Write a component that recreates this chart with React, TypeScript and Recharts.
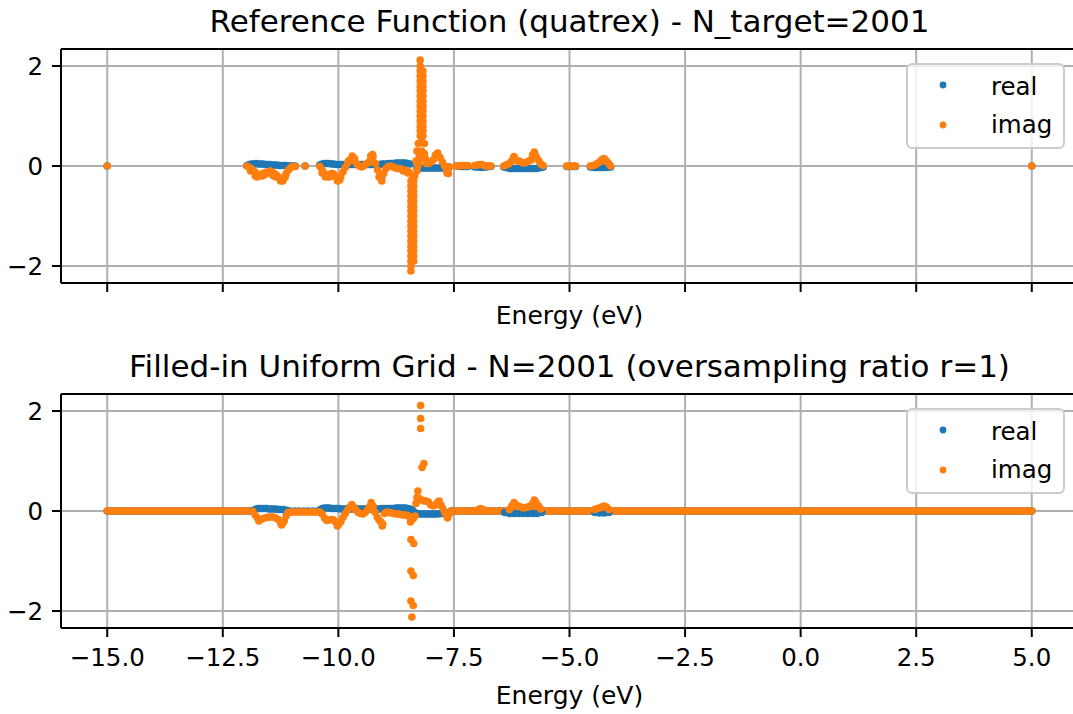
import React from 'react';
import { ComposedChart, Scatter, Line, XAxis, YAxis, CartesianGrid, ReferenceLine, Legend } from 'recharts';

type P = [number, number];

const BLUE = '#1f77b4';
const ORANGE = '#ff7f0e';

const titles = [
  'Reference Function (quatrex) - N_target=2001',
  'Filled-in Uniform Grid - N=2001 (oversampling ratio r=1)',
];
const xLabel = 'Energy (eV)';
const seriesNames = ['real', 'imag'];

const xTicks = [-15, -12.5, -10, -7.5, -5, -2.5, 0, 2.5, 5];
const yTicks = [-2, 0, 2];
const xDomain: [number, number] = [-16, 6];
const yDomain: [number, number] = [-2.34, 2.34];

// ---------- Top panel: reference function ----------
const topReal: P[] = [
  [-15, 0], [5, 0],
  [-11.98, 0.01], [-11.93, 0.03], [-11.88, 0.04], [-11.83, 0.04], [-11.78, 0.05], [-11.73, 0.04], [-11.68, 0.04],
  [-11.63, 0.04], [-11.58, 0.03], [-11.53, 0.03], [-11.48, 0.03], [-11.43, 0.02], [-11.38, 0.02], [-11.33, 0.02],
  [-11.28, 0.01], [-11.23, 0.01], [-11.18, 0.01], [-11.13, 0.01], [-11.08, 0], [-11.03, 0], [-10.98, 0], [-10.93, 0],
  [-10.72, 0],
  [-10.4, 0.02], [-10.35, 0.04], [-10.3, 0.05], [-10.25, 0.05], [-10.2, 0.05], [-10.15, 0.04], [-10.1, 0.04],
  [-10.05, 0.03], [-10.0, 0.03], [-9.95, 0.03], [-9.9, 0.03], [-9.85, 0.03], [-9.8, 0.03], [-9.75, 0.03], [-9.7, 0.03],
  [-9.65, 0.03], [-9.6, 0.03], [-9.55, 0.03], [-9.5, 0.03], [-9.45, 0.03], [-9.4, 0.03], [-9.35, 0.03], [-9.3, 0.03],
  [-9.25, 0.03], [-9.2, 0.03], [-9.15, 0.03], [-9.1, 0.03], [-9.05, 0.04], [-9.0, 0.04], [-8.95, 0.04], [-8.9, 0.05],
  [-8.85, 0.05], [-8.8, 0.05], [-8.75, 0.06], [-8.7, 0.06], [-8.65, 0.06], [-8.6, 0.06], [-8.55, 0.06], [-8.5, 0.05],
  [-8.45, 0.04],
  [-8.3, -0.03], [-8.25, -0.04], [-8.2, -0.04], [-8.15, -0.04], [-8.1, -0.04], [-8.05, -0.04], [-8.0, -0.04],
  [-7.95, -0.04], [-7.9, -0.04], [-7.85, -0.04], [-7.8, -0.04], [-7.75, -0.04], [-7.7, -0.03], [-7.65, -0.03], [-7.6, -0.02],
  [-7.45, 0], [-7.4, 0], [-7.35, -0.01], [-7.3, -0.01], [-7.25, -0.01], [-7.2, -0.01],
  [-7.05, -0.02], [-7.0, -0.02], [-6.95, -0.02], [-6.9, -0.03], [-6.85, -0.02], [-6.8, -0.02], [-6.75, -0.01], [-6.7, -0.01],
  [-6.42, -0.02], [-6.37, -0.03], [-6.32, -0.04], [-6.27, -0.05], [-6.22, -0.05], [-6.17, -0.05], [-6.12, -0.05],
  [-6.07, -0.05], [-6.02, -0.05], [-5.97, -0.05], [-5.92, -0.05], [-5.87, -0.05], [-5.82, -0.05], [-5.77, -0.05],
  [-5.72, -0.05], [-5.67, -0.04], [-5.62, -0.03], [-5.57, -0.02],
  [-5.06, -0.01], [-5.01, -0.01], [-4.96, -0.01], [-4.91, -0.01], [-4.87, -0.01],
  [-4.55, -0.02], [-4.5, -0.02], [-4.45, -0.03], [-4.4, -0.03], [-4.35, -0.03], [-4.3, -0.03], [-4.25, -0.03],
  [-4.2, -0.03], [-4.15, -0.02], [-4.11, -0.02],
];

const topImag: P[] = [
  [-15, 0], [5, 0],
  [-11.98, 0], [-11.93, -0.03], [-11.88, -0.06], [-11.83, -0.1], [-11.78, -0.14], [-11.73, -0.17], [-11.68, -0.18],
  [-11.63, -0.15], [-11.58, -0.13], [-11.53, -0.12], [-11.48, -0.1], [-11.43, -0.12], [-11.38, -0.15], [-11.33, -0.19],
  [-11.28, -0.23], [-11.23, -0.27], [-11.18, -0.24], [-11.13, -0.15], [-11.08, -0.08], [-11.03, -0.03], [-10.98, -0.01],
  [-10.93, -0.01],
  [-11.9, -0.1], [-11.8, -0.2], [-11.75, -0.22], [-11.65, -0.2], [-11.6, -0.18], [-11.45, -0.16], [-11.4, -0.2],
  [-11.35, -0.22], [-11.25, -0.3], [-11.2, -0.3], [-11.15, -0.22],
  [-10.72, 0],
  [-10.4, -0.01], [-10.35, -0.08], [-10.3, -0.15], [-10.25, -0.18], [-10.2, -0.17], [-10.15, -0.15], [-10.1, -0.16],
  [-10.05, -0.21], [-10.0, -0.26], [-9.95, -0.22], [-9.9, -0.12], [-9.85, -0.03], [-9.8, 0.06], [-9.75, 0.12],
  [-9.7, 0.16], [-9.65, 0.1], [-9.6, 0.04], [-9.55, 0], [-9.5, -0.02], [-9.45, 0], [-9.4, 0.04], [-9.35, 0.07],
  [-9.3, 0.14], [-9.25, 0.18], [-9.2, 0.05], [-9.15, -0.08], [-9.1, -0.18], [-9.06, -0.24], [-9.02, -0.15],
  [-8.97, -0.05], [-8.92, -0.01], [-8.87, 0], [-8.82, -0.02], [-8.77, -0.04], [-8.72, -0.05], [-8.67, -0.05],
  [-8.62, -0.07], [-8.57, -0.08], [-8.52, -0.1], [-8.47, -0.12],
  [-10.35, -0.14], [-10.28, -0.22], [-10.2, -0.22], [-10.12, -0.2], [-10.02, -0.3], [-9.97, -0.28], [-9.78, 0.1],
  [-9.7, 0.2], [-9.65, 0.15], [-9.3, 0.2], [-9.26, 0.23], [-9.12, -0.22], [-9.06, -0.3], [-8.6, -0.1], [-8.5, -0.14],
  [-8.4, -0.25], [-8.35, -0.2], [-8.3, -0.1], [-8.28, 0], [-8.26, 0.1], [-8.25, 0.2], [-8.32, 0.1], [-8.2, 0.3],
  [-8.2, 0.5], [-8.14, 0.45], [-8.14, 0.25], [-8.12, 0.15], [-8.1, 0.05], [-8.3, 0.3], [-8.27, 0.45],
  [-8.05, 0.05], [-8.0, 0.08], [-7.95, 0.12], [-7.9, 0.17], [-7.85, 0.21], [-7.8, 0.17], [-7.75, 0.08], [-7.7, 0],
  [-7.66, -0.08], [-7.63, -0.11], [-7.6, -0.02],
  [-7.9, 0.22], [-7.85, 0.26], [-7.65, -0.14], [-7.62, -0.15],
  [-7.45, 0], [-7.4, 0], [-7.35, 0.01], [-7.3, 0.01], [-7.25, 0.01], [-7.2, 0.01],
  [-7.05, 0.01], [-7.0, 0.02], [-6.95, 0.03], [-6.9, 0.03], [-6.85, 0.01], [-6.8, 0], [-6.75, 0], [-6.7, 0],
  [-6.42, 0], [-6.37, 0.02], [-6.32, 0.04], [-6.27, 0.08], [-6.22, 0.15], [-6.18, 0.14], [-6.13, 0.1], [-6.08, 0.1],
  [-6.03, 0.07], [-5.98, 0.06], [-5.93, 0.08], [-5.88, 0.1], [-5.83, 0.12], [-5.78, 0.2], [-5.75, 0.24], [-5.71, 0.17],
  [-5.66, 0.1], [-5.62, 0.04], [-5.57, 0.01],
  [-6.2, 0.19], [-5.8, 0.22], [-5.76, 0.28],
  [-5.06, 0], [-5.01, 0], [-4.96, 0], [-4.91, 0], [-4.87, 0],
  [-4.55, 0], [-4.5, 0.01], [-4.45, 0.02], [-4.4, 0.05], [-4.35, 0.08], [-4.3, 0.1], [-4.25, 0.12], [-4.2, 0.1],
  [-4.15, 0.05], [-4.11, 0], [-4.3, 0.13], [-4.25, 0.15],
];

// the dense vertical band of the pole near -8.3 eV (energy of each column, values read along it)
const topSpikeCols: { e: number; v: number[] }[] = [
  { e: -8.43, v: [-0.3, -0.4, -0.5, -0.6, -0.7, -0.8, -0.9, -1.0, -1.1, -1.2, -1.3, -1.4, -1.5, -1.6, -1.7, -1.8, -1.9, -2.0, -2.1] },
  { e: -8.37, v: [-0.3, -0.4, -0.5, -0.6, -0.7, -0.8, -0.9, -1.0, -1.1, -1.2, -1.3, -1.4, -1.5, -1.6, -1.7, -1.8, -1.9] },
  { e: -8.23, v: [0.6, 0.7, 0.8, 0.9, 1.0, 1.1, 1.2, 1.3, 1.4, 1.5, 1.6, 1.7, 1.8, 1.9, 2.0, 2.12] },
  { e: -8.17, v: [0.6, 0.7, 0.8, 0.9, 1.0, 1.1, 1.2, 1.3, 1.4, 1.5, 1.6, 1.7, 1.8, 1.9] },
];

// ---------- Bottom panel: uniform grid ----------
const gridZeroSegments: P[][] = [
  [[-15, 0], [-11.85, 0]],
  [[-7.55, 0], [5, 0]],
];

const botReal: P[] = [
  [-11.85, 0], [-11.8, 0.03], [-11.75, 0.05], [-11.7, 0.05], [-11.65, 0.05], [-11.6, 0.05], [-11.55, 0.05],
  [-11.5, 0.04], [-11.45, 0.04], [-11.4, 0.04], [-11.35, 0.04], [-11.3, 0.03], [-11.25, 0.03], [-11.2, 0.03],
  [-11.15, 0.02], [-11.1, 0.01], [-11.05, 0], [-10.95, 0], [-10.85, 0], [-10.75, 0], [-10.65, 0], [-10.55, 0], [-10.45, 0],
  [-10.4, 0.02], [-10.35, 0.05], [-10.3, 0.06], [-10.25, 0.06], [-10.2, 0.06], [-10.15, 0.05], [-10.1, 0.05],
  [-10.05, 0.05], [-10.0, 0.05], [-9.95, 0.04], [-9.9, 0.04], [-9.85, 0.04], [-9.8, 0.04], [-9.75, 0.04], [-9.7, 0.04],
  [-9.65, 0.04], [-9.6, 0.04], [-9.55, 0.04], [-9.5, 0.04], [-9.45, 0.04], [-9.4, 0.04], [-9.35, 0.04], [-9.3, 0.04],
  [-9.25, 0.04], [-9.2, 0.04], [-9.15, 0.04], [-9.1, 0.04], [-9.05, 0.05], [-9.0, 0.05], [-8.95, 0.05], [-8.9, 0.05],
  [-8.85, 0.05], [-8.8, 0.05], [-8.75, 0.06], [-8.7, 0.06], [-8.65, 0.06], [-8.6, 0.06], [-8.55, 0.06], [-8.5, 0.05],
  [-8.45, 0.04], [-8.4, 0.02], [-8.35, -0.03], [-8.3, -0.05], [-8.25, -0.06], [-8.2, -0.06], [-8.15, -0.06],
  [-8.1, -0.06], [-8.05, -0.06], [-8.0, -0.06], [-7.95, -0.06], [-7.9, -0.06], [-7.85, -0.06], [-7.8, -0.05],
  [-7.75, -0.05], [-7.7, -0.05], [-7.65, -0.04], [-7.6, -0.03], [-7.55, 0],
  [-6.4, -0.03], [-6.3, -0.05], [-6.2, -0.05], [-6.1, -0.05], [-6.0, -0.05], [-5.9, -0.05], [-5.8, -0.05],
  [-5.7, -0.05], [-5.6, -0.03],
  [-4.45, -0.03], [-4.35, -0.04], [-4.25, -0.04], [-4.15, -0.03],
];

const botImag: P[] = [
  [-11.85, -0.01], [-11.8, -0.08], [-11.75, -0.14], [-11.7, -0.17], [-11.65, -0.16], [-11.6, -0.14], [-11.55, -0.13],
  [-11.5, -0.12], [-11.45, -0.12], [-11.4, -0.12], [-11.35, -0.14], [-11.3, -0.17], [-11.25, -0.23], [-11.21, -0.25],
  [-11.17, -0.2], [-11.13, -0.1], [-11.09, -0.03], [-11.05, -0.02], [-11.0, -0.02], [-10.95, -0.02], [-10.9, -0.02],
  [-10.85, -0.02], [-10.8, -0.02], [-10.75, -0.02], [-10.7, -0.02], [-10.65, -0.02], [-10.6, -0.02], [-10.55, -0.02],
  [-10.5, -0.02], [-10.45, -0.02], [-10.4, -0.02], [-10.35, -0.06], [-10.3, -0.14], [-10.25, -0.19], [-10.2, -0.18],
  [-10.15, -0.17], [-10.1, -0.18], [-10.05, -0.23], [-10.0, -0.27], [-9.95, -0.22], [-9.9, -0.13], [-9.85, -0.05],
  [-9.8, 0.02], [-9.75, 0.08], [-9.71, 0.13], [-9.67, 0.08], [-9.62, 0.02], [-9.57, -0.03], [-9.52, -0.05],
  [-9.47, -0.06], [-9.42, -0.03], [-9.37, 0.02], [-9.33, 0.08], [-9.29, 0.17], [-9.25, 0.1], [-9.21, -0.02],
  [-9.16, -0.12], [-9.12, -0.18], [-9.08, -0.22], [-9.04, -0.26], [-9.0, -0.05], [-8.95, -0.02], [-8.9, -0.03],
  [-8.85, -0.04], [-8.8, -0.05], [-8.75, -0.06], [-8.7, -0.06], [-8.65, -0.07], [-8.6, -0.08], [-8.55, -0.08],
  [-8.5, -0.09], [-8.46, -0.12], [-8.42, -0.18], [-8.38, -0.15], [-8.34, -0.1], [-8.32, 0.15], [-8.3, 0.27],
  [-8.28, 0.4], [-8.25, 0.25], [-8.2, 0.22], [-8.15, 0.2], [-8.1, 0.2], [-8.05, 0.18], [-8.0, 0.12], [-7.95, 0.1],
  [-7.9, 0.12], [-7.85, 0.18], [-7.82, 0.2], [-7.78, 0.12], [-7.74, 0.05], [-7.7, -0.03], [-7.66, -0.08],
  [-7.63, -0.11], [-7.59, -0.05], [-7.55, 0],
  [-11.72, -0.2], [-11.23, -0.28], [-10.02, -0.3], [-9.05, -0.3], [-8.44, -0.22], [-7.64, -0.14],
  [-6.97, 0.03], [-6.92, 0.05], [-6.87, 0.03],
  [-6.3, 0.03], [-6.25, 0.1], [-6.2, 0.17], [-6.15, 0.12], [-6.1, 0.09], [-6.05, 0.08], [-6.0, 0.06], [-5.95, 0.07],
  [-5.9, 0.08], [-5.85, 0.1], [-5.8, 0.15], [-5.76, 0.22], [-5.72, 0.17], [-5.67, 0.1], [-5.62, 0.04],
  [-4.45, 0.03], [-4.4, 0.05], [-4.35, 0.06], [-4.3, 0.08], [-4.25, 0.1], [-4.2, 0.08], [-4.15, 0.03],
  // sparse grid samples across the pole
  [-8.22, 2.11], [-8.22, 1.85], [-8.22, 1.65], [-8.19, 0.87], [-8.15, 0.95],
  [-8.43, -0.57], [-8.37, -0.65], [-8.43, -1.2], [-8.38, -1.29], [-8.43, -1.8], [-8.38, -1.89], [-8.41, -2.12],
];

const toPts = (arr: P[]) => arr.map(([x, y]) => ({ x, y }));
const colPts = (cols: { e: number; v: number[] }[]) => cols.flatMap((c) => c.v.map((y) => ({ x: c.e, y })));

const fmtX = (v: number) => (v < 0 ? '\u2212' : '') + Math.abs(v).toFixed(1);
const fmtY = (v: number) => (v < 0 ? '\u2212' + Math.abs(v) : String(v));

const R = 3.8;
const dotShape = (color: string) => (props: any) =>
  props.cx == null || props.cy == null ? <g /> : <circle cx={props.cx} cy={props.cy} r={R} fill={color} />;

const LegendBox = () => (
  <svg width={159} height={86} style={{ display: 'block' }}>
    <rect x={1} y={1} width={157} height={84} rx={5} ry={5} fill="rgba(255,255,255,0.8)" stroke="#cccccc" strokeWidth={2} />
    <circle cx={37} cy={22} r={3.4} fill={BLUE} />
    <circle cx={37} cy={62} r={3.4} fill={ORANGE} />
    <text x={85} y={31.5} fontSize={24.5} fill="#000">{seriesNames[0]}</text>
    <text x={85} y={70} fontSize={24.5} fill="#000">{seriesNames[1]}</text>
  </svg>
);

const axisStroke = { stroke: '#000', strokeWidth: 2 };

function Panel(props: {
  real: { x: number; y: number }[];
  imag: { x: number; y: number }[];
  zeroSegs: P[][];
  tickLabels: boolean;
}) {
  const { real, imag, zeroSegs, tickLabels } = props;
  return (
    <ComposedChart width={1085} height={345} margin={{ top: 49, right: 7, bottom: 0, left: 0 }}>
      <CartesianGrid stroke="#b0b0b0" strokeWidth={2} fill="none" />
      <XAxis
        type="number"
        dataKey="x"
        domain={xDomain}
        ticks={xTicks}
        interval={0}
        allowDataOverflow
        height={62}
        tickSize={9}
        tickMargin={12}
        axisLine={axisStroke}
        tickLine={axisStroke}
        tick={{ fontSize: 24.5, fill: '#000' }}
        tickFormatter={tickLabels ? fmtX : () => ''}
      />
      <YAxis
        type="number"
        dataKey="y"
        domain={yDomain}
        ticks={yTicks}
        interval={0}
        allowDataOverflow
        width={61}
        tickSize={9}
        tickMargin={9}
        axisLine={axisStroke}
        tickLine={axisStroke}
        tick={{ fontSize: 24.5, fill: '#000' }}
        tickFormatter={fmtY}
      />
      <ReferenceLine y={yDomain[1]} stroke="#000" strokeWidth={2} />
      {zeroSegs.map((seg, i) => (
        <Line
          key={'rz' + i}
          data={toPts(seg)}
          dataKey="y"
          type="linear"
          stroke={BLUE}
          strokeWidth={R * 2}
          strokeLinecap="round"
          dot={false}
          activeDot={false}
          legendType="none"
          isAnimationActive={false}
        />
      ))}
      <Scatter name={seriesNames[0]} data={real} fill={BLUE} shape={dotShape(BLUE)} isAnimationActive={false} />
      {zeroSegs.map((seg, i) => (
        <Line
          key={'iz' + i}
          data={toPts(seg)}
          dataKey="y"
          type="linear"
          stroke={ORANGE}
          strokeWidth={R * 2}
          strokeLinecap="round"
          dot={false}
          activeDot={false}
          legendType="none"
          isAnimationActive={false}
        />
      ))}
      <Scatter name={seriesNames[1]} data={imag} fill={ORANGE} shape={dotShape(ORANGE)} isAnimationActive={false} />
      <Legend
        layout="vertical"
        align="center"
        verticalAlign="middle"
        wrapperStyle={{ position: 'absolute', left: 906, top: 63, width: 159, height: 86 }}
        content={() => <LegendBox />}
      />
    </ComposedChart>
  );
}

const textBase: React.CSSProperties = {
  position: 'absolute',
  left: 0,
  width: 1139,
  textAlign: 'center',
  lineHeight: 1,
  whiteSpace: 'nowrap',
  color: '#000',
};

export default function App() {
  const topRealPts = toPts(topReal);
  const topImagPts = [...toPts(topImag), ...colPts(topSpikeCols)];
  return (
    <div
      style={{
        position: 'fixed',
        left: 0,
        top: 0,
        width: 1073,
        height: 714,
        overflow: 'hidden',
        background: '#fff',
        fontFamily: '"DejaVu Sans", sans-serif',
      }}
    >
      <div style={{ ...textBase, top: 6, fontSize: 31 }}>{titles[0]}</div>
      <div style={{ position: 'absolute', left: 0, top: 0 }}>
        <Panel real={topRealPts} imag={topImagPts} zeroSegs={[]} tickLabels={false} />
      </div>
      <div style={{ ...textBase, top: 303, fontSize: 25 }}>{xLabel}</div>

      <div style={{ ...textBase, top: 351, fontSize: 31 }}>{titles[1]}</div>
      <div style={{ position: 'absolute', left: 0, top: 345 }}>
        <Panel real={toPts(botReal)} imag={toPts(botImag)} zeroSegs={gridZeroSegments} tickLabels={true} />
      </div>
      <div style={{ ...textBase, top: 683, fontSize: 25 }}>{xLabel}</div>
    </div>
  );
}
